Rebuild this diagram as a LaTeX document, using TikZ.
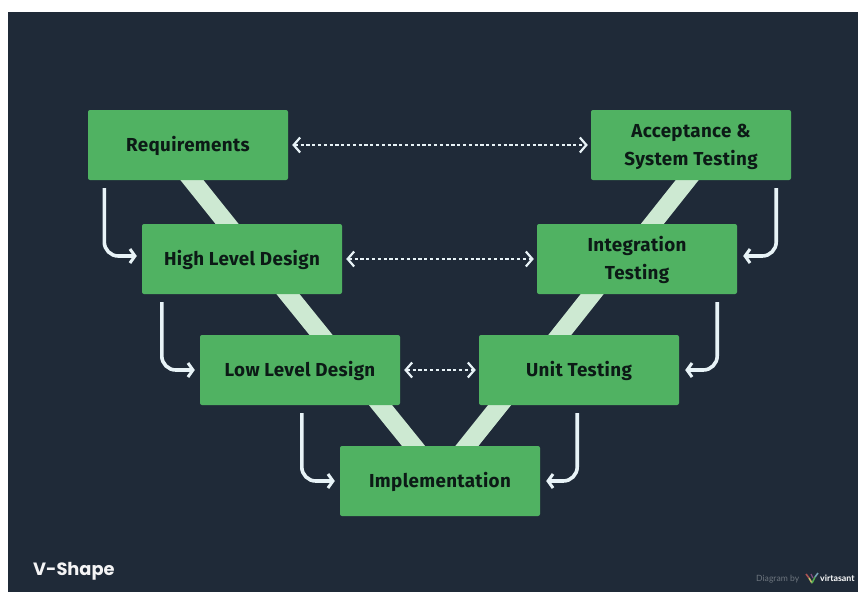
\documentclass[tikz,border=0pt]{standalone}
\usepackage{fontspec}
\setmainfont[LetterSpace=1.8]{Fira Sans}
\newfontfamily\titlefont{Poppins}
\newfontfamily\markfont{Lato}
\usetikzlibrary{arrows.meta}
\definecolor{pagebg}{HTML}{1F2A38}
\definecolor{boxgreen}{HTML}{50B262}
\definecolor{bandgreen}{HTML}{CDE9D2}
\definecolor{inkdark}{HTML}{0C1A16}
\definecolor{flowwhite}{HTML}{E8F3F7}
\newcommand\rowstrut{\rule{0pt}{18pt}\rule[-4pt]{0pt}{4pt}}
\pgfdeclarelayer{bgl}
\pgfdeclarelayer{bandl}
\pgfsetlayers{bgl,bandl,main}
\tikzset{
  stage/.style={fill=boxgreen,rounded corners=2pt,minimum width=200pt,minimum height=70pt,
    inner sep=0pt,align=center,text=inkdark,font=\fontsize{18.8}{28}\selectfont\bfseries},
  band/.style={draw=bandgreen,line width=18pt},
  flow/.style={draw=flowwhite,line width=3.6pt,rounded corners=14pt,
    -{Straight Barb[length=5pt,width=14pt,line width=3pt]}},
  link/.style={draw=flowwhite,line width=1.8pt,dash pattern=on 3.2pt off 2.6pt,
    {Straight Barb[length=6.5pt,width=15pt,line width=2.2pt]}-{Straight Barb[length=6.5pt,width=15pt,line width=2.2pt]}},
}
\begin{document}
\begin{tikzpicture}[x=1pt,y=-1pt]
\useasboundingbox (0,0) rectangle (858,592);
\begin{pgfonlayer}{bgl}
  \fill[pagebg] (8,12) rectangle (858,592);
\end{pgfonlayer}
\node[stage] (req) at (188,145) {\rowstrut Requirements};
\node[stage] (hld) at (242,259) {\rowstrut High Level Design};
\node[stage] (lld) at (300,370) {\rowstrut Low Level Design};
\node[stage] (imp) at (440,481) {\rowstrut Implementation};
\node[stage] (ut)  at (579,370) {\rowstrut Unit Testing};
\node[stage] (int) at (637,259) {\rowstrut Integration\\\rowstrut Testing};
\node[stage] (acc) at (691,145) {\rowstrut Acceptance \&\\\rowstrut System Testing};
\begin{pgfonlayer}{bandl}
  \draw[band] ([shift={(-4,-10)}]req.south) -- ([shift={(-7,10)}]hld.north);
  \draw[band] ([shift={(38,-10)}]hld.south) -- ([shift={(29,10)}]lld.north);
  \draw[band] ([shift={(72.5,-10)}]lld.south) -- ([shift={(-18.5,10)}]imp.north);
  \draw[band] ([shift={(19,10)}]imp.north) -- ([shift={(-71.5,-10)}]ut.south);
  \draw[band] ([shift={(-27,10)}]ut.north) -- ([shift={(-37,-10)}]int.south);
  \draw[band] ([shift={(7.5,10)}]int.north) -- ([shift={(4,-10)}]acc.south);
\end{pgfonlayer}
\draw[flow] ([shift={(16.5,8)}]req.south west) |- ([shift={(-5,-3)}]hld.west);
\draw[flow] ([shift={(20,8)}]hld.south west) |- ([xshift=-5]lld.west);
\draw[flow] ([shift={(102,8)}]lld.south west) |- ([xshift=-5]imp.west);
\draw[flow] ([shift={(-15,8)}]acc.south east) |- ([shift={(6,-3)}]int.east);
\draw[flow] ([shift={(-20,8)}]int.south east) |- ([xshift=6]ut.east);
\draw[flow] ([shift={(-102,8)}]ut.south east) |- ([xshift=6]imp.east);
\draw[link] ([xshift=4]req.east) -- ([xshift=-3]acc.west);
\draw[link] ([xshift=4]hld.east) -- ([xshift=-3]int.west);
\draw[link] ([xshift=4]lld.east) -- ([xshift=-3]ut.west);
\node[anchor=base west,inner sep=0pt,text=white!95!pagebg,font=\titlefont\fontsize{17.8}{22}\selectfont\bfseries] (title) at (33,575) {V-Shape};
\node[anchor=base west,inner sep=0pt,text=white!35!pagebg,font=\markfont\fontsize{8.6}{10}\selectfont] (by) at (756,581) {Diagram by};
\node[anchor=base west,inner sep=0pt,text=white,font=\markfont\fontsize{8.8}{10}\selectfont\bfseries] (brand) at (820,581) {virtasant};
\draw[line width=1.6pt,draw=red!35!gray] (806,574) -- (809,578);
\draw[line width=1.6pt,draw=yellow!45!gray] (809,578) -- (812,583);
\draw[line width=1.6pt,draw=green!35!gray] (812,583) -- (815,577);
\draw[line width=1.6pt,draw=cyan!35!gray] (815,577) -- (818,573);
\draw[line width=1.2pt,draw=violet!40!gray] (811,574) -- (813,578);
\end{tikzpicture}
\end{document}
